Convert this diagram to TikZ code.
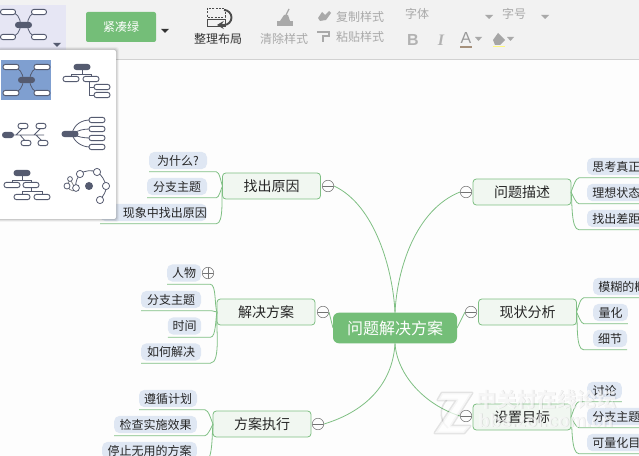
\documentclass[tikz,border=0pt]{standalone}
\usepackage{fontspec}
\setmainfont{Noto Sans CJK SC}
\newfontfamily\latinf{Liberation Sans}
\newfontfamily\latins{Liberation Serif}
\usetikzlibrary{arrows.meta}
\definecolor{canvasbg}{HTML}{FDFDFD}
\definecolor{barbg}{HTML}{F2F2F2}
\definecolor{green1}{HTML}{74BE78}
\definecolor{greenl}{HTML}{7FBF83}
\definecolor{branchbg}{HTML}{F1F7F1}
\definecolor{leafbg}{HTML}{DFE7F3}
\definecolor{dk}{HTML}{555B70}
\definecolor{sel}{HTML}{7F9FD0}
\definecolor{gtext}{HTML}{A9A9A9}
\newcommand{\LL}[4]{\draw[link] ([yshift=-2pt]#1.south west) -- ([xshift=#3,yshift=-2pt]#1.south east) to[out=0,in=#4,looseness=0.55] (#2.west);}
\newcommand{\RL}[4]{\draw[link] ([yshift=-2pt]#1.south east) -- ([xshift=-#3,yshift=-2pt]#1.south west) to[out=180,in=#4,looseness=0.55] (#2.east);}
\newcommand{\Bx}[3]{\node[minibox=#3] at (#1,-#2) {};}
\newcommand{\ZMark}{(442,-393) -- (472,-393) -- (451,-426) -- (470,-426) -- (464,-433) -- (435,-433) -- (457,-400) -- (438,-400) -- cycle}
\tikzset{
 x=0.75pt,y=0.75pt,
 link/.style={draw=greenl,line width=0.6pt},
 mainnode/.style={fill=green1,rounded corners=4.5pt,text=white,font=\fontsize{12}{12}\selectfont,minimum width=93pt,minimum height=23pt,inner sep=0,outer sep=0},
 branch/.style={draw=greenl,fill=branchbg,line width=0.6pt,rounded corners=2.5pt,text=black!85,font=\fontsize{10.5}{10.5}\selectfont,minimum width=73.5pt,minimum height=19.5pt,inner sep=0,outer sep=0},
 leaf/.style={fill=leafbg,rounded corners=4pt,text=black!85,font=\fontsize{9}{9}\selectfont,minimum height=12.9pt,inner sep=0,outer sep=0},
 folder/.style={circle,draw=black!55,fill=canvasbg,line width=0.4pt,minimum size=8.6pt,inner sep=0,path picture={\draw[black!55,line width=0.4pt] (path picture bounding box.west) -- (path picture bounding box.east);}},
 folderp/.style={folder,path picture={\draw[black!55,line width=0.4pt] (path picture bounding box.west) -- (path picture bounding box.east) (path picture bounding box.north) -- (path picture bounding box.south);}},
 minibox/.style={draw=dk,fill=white,line width=0.7pt,rounded corners=1.8pt,minimum width=#1*0.75pt,minimum height=3.9pt,inner sep=0},
 minidark/.style={fill=dk,rounded corners=2.2pt,minimum width=#1*0.75pt,minimum height=4.6pt,inner sep=0},
 miniline/.style={draw=dk,line width=0.6pt},
 tool/.style={font=\fontsize{9}{9}\selectfont,inner sep=0},
 gray tool/.style={tool,text=gtext},
 wm1font/.style={inner sep=0,anchor=west,font=\bfseries\fontsize{15}{15}\selectfont},
 wm2font/.style={inner sep=0,anchor=west,font=\latinf\bfseries\fontsize{14}{14}\selectfont},
}
\begin{document}
\begin{tikzpicture}
\useasboundingbox (0,0) rectangle (639,-456);
\clip (0,0) rectangle (639,-456);
\fill[canvasbg] (0,0) rectangle (639,-456);

% central
\node[mainnode] (main) at (395,-328) {问题解决方案};
% branches
\node[branch] (b1) at (271.5,-186) {找出原因};
\node[branch] (b2) at (522,-192) {问题描述};
\node[branch] (b3) at (266,-312) {解决方案};
\node[branch] (b4) at (527.5,-312) {现状分析};
\node[branch] (b5) at (262,-424) {方案执行};
\node[branch] (b6) at (522,-417) {设置目标};
% folders
\node[folder] (f1) at (328,-186) {};
\node[folder] (f2) at (466,-192) {};
\node[folder] (f3) at (323,-312) {};
\node[folder] (f4) at (471,-312) {};
\node[folder] (f5) at (318,-424) {};
\node[folder] (f6) at (466,-416) {};
\node[folderp] (f7) at (208,-273) {};
% central connectors
\draw[link] (main.north) .. controls (393,-270) and (375,-205) .. (f1.east);
\draw[link] (main.north) .. controls (397,-270) and (415,-210) .. (f2.west);
\draw[link] (main.south) .. controls (393,-380) and (370,-410) .. (f5.east);
\draw[link] (main.south) .. controls (397,-375) and (425,-405) .. (f6.west);
\draw[link] (f3.east) -- (main.west);
\draw[link] (main.east) -- (f4.west);
% leaves
\node[leaf,minimum width=43.5pt] (l11) at (178,-160.5) {为什么?};
\node[leaf,minimum width=45pt] (l12) at (177,-186.5) {分支主题};
\node[leaf,minimum width=80pt] (l13) at (153.5,-212.5) {\hspace*{17pt}现象中找出原因};
\node[leaf,minimum width=25.5pt] (l31) at (184,-273) {人物};
\node[leaf,minimum width=45pt] (l32) at (171,-299.5) {分支主题};
\node[leaf,minimum width=25pt] (l33) at (184.5,-326) {时间};
\node[leaf,minimum width=45pt] (l34) at (171,-352) {如何解决};
\node[leaf,minimum width=43.5pt] (l51) at (168,-398.5) {遵循计划};
\node[leaf,minimum width=62pt] (l52) at (155.5,-424.5) {检查实施效果};
\node[leaf,minimum width=71pt] (l53) at (149.5,-450.5) {停止无用的方案};
\node[leaf,minimum width=50pt,anchor=west,text width=50pt,align=left] (l21) at (587,-166.5) {\hspace*{4pt}思考真正};
\node[leaf,minimum width=50pt,anchor=west,text width=50pt,align=left] (l22) at (587,-192.5) {\hspace*{4pt}理想状态};
\node[leaf,minimum width=50pt,anchor=west,text width=50pt,align=left] (l23) at (587,-218.5) {\hspace*{4pt}找出差距};
\node[leaf,minimum width=50pt,anchor=west,text width=50pt,align=left] (l41) at (593,-286.5) {\hspace*{4pt}模糊的概};
\node[leaf,minimum width=26pt] (l42) at (610.5,-312.5) {量化};
\node[leaf,minimum width=25.5pt] (l43) at (610,-338.5) {细节};
\node[leaf,minimum width=26pt] (l61) at (604.5,-390.5) {讨论};
\node[leaf,minimum width=50pt,anchor=west,text width=50pt,align=left] (l62) at (587,-416.5) {\hspace*{4pt}分支主题};
\node[leaf,minimum width=50pt,anchor=west,text width=50pt,align=left] (l63) at (587,-442.5) {\hspace*{4pt}可量化目};
% leaf connectors
\LL{l11}{b1}{7pt}{115}
\LL{l12}{b1}{7pt}{240}
\LL{l13}{b1}{7pt}{260}
\LL{l31}{b3}{7pt}{115}
\LL{l32}{b3}{8pt}{180}
\LL{l33}{b3}{7pt}{255}
\LL{l34}{b3}{7pt}{262}
\LL{l51}{b5}{6pt}{115}
\LL{l52}{b5}{6pt}{240}
\LL{l53}{b5}{6pt}{262}
\RL{l21}{b2}{6pt}{65}
\RL{l22}{b2}{6pt}{300}
\RL{l23}{b2}{6pt}{280}
\RL{l41}{b4}{7pt}{65}
\RL{l42}{b4}{7pt}{300}
\RL{l43}{b4}{7pt}{280}
\RL{l61}{b6}{6pt}{65}
\RL{l62}{b6}{6pt}{300}
\RL{l63}{b6}{6pt}{280}

% watermark
\begin{scope}[opacity=0.10]
\draw[black,line width=2.2pt,line join=round] \ZMark;
\draw[black,line width=1.2pt] (448,-428) arc[start angle=230,end angle=135,radius=19];
\node[wm1font,black] at (476.8,-399.8) {中关村在线论坛};
\node[wm2font,black] at (478.8,-420.8) {bbs.zol.com.cn};
\end{scope}
\begin{scope}[opacity=0.7]
\fill[white] \ZMark;
\node[wm1font,white] (wm1) at (476,-400) {中关村在线论坛};
\node[wm2font,white] (wm2) at (478,-421) {bbs.zol.com.cn};
\end{scope}

% toolbar
\fill[barbg] (0,0) rectangle (639,-59);
\draw[black!18,line width=0.6pt] (0,-59.5) -- (639,-59.5);
\fill[blue!30!white,opacity=0.18] (0,-5) rectangle (66,-50);
% layout icon in toolbar
\draw[miniline] (10,-12) .. controls (24,-12) and (24,-37) .. (10,-37);
\draw[miniline] (38,-12) .. controls (24,-12) and (24,-37) .. (38,-37);
\Bx{8}{12}{15} \Bx{39}{12}{15} \Bx{8}{37}{15} \Bx{39}{37}{15}
\node[minidark=17] at (23.5,-25) {};
\fill[dk] (53,-43) -- (61,-43) -- (57,-47) -- cycle;
% theme button
\node[fill=green1,rounded corners=1.5pt,minimum width=52.5pt,minimum height=22.5pt,inner sep=0,text=white,font=\fontsize{9}{9}\selectfont] (theme) at (121,-27) {紧凑绿};
\fill[black!80] (161,-29) -- (169,-29) -- (165,-33) -- cycle;
% arrange icon
\draw[black!70,dash pattern=on 1.5pt off 1pt,line width=0.5pt] (207,-8) rectangle (225,-17);
\draw[black!70,line width=0.6pt] (207,-19.5) rectangle (225,-26);
\draw[black!70,line width=1.4pt,-{Stealth[length=5pt,width=6pt]}] (224,-10) arc[start angle=90,end angle=-90,radius=7.5] -- (217,-25);
\node[tool,text=black!80] (t1) at (218,-38.5) {整理布局};
% clear icon
\fill[gtext] (277,-21) -- (293,-21) -- (293,-26) -- (277,-26) -- cycle;
\fill[gtext] (280,-21) -- (284,-15) -- (288,-15) -- (290,-21) -- cycle;
\draw[gtext,line width=1pt] (286,-15) -- (289,-9);
\node[gray tool] (t2) at (284,-38.5) {清除样式};
% copy / paste
\fill[gtext] (318,-18) -- (322,-12) -- (325,-15) -- (329,-11) -- (331,-13) -- (326,-20) -- (320,-21) -- cycle;
\node[gray tool] (t3) at (360,-16.5) {复制样式};
\draw[gtext,line width=1.5pt] (317,-32) -- (329,-32) -- (329,-36) -- (323,-36) -- (323,-42);
\node[gray tool] (t4) at (360,-36.5) {粘贴样式};
% font boxes
\draw[black!5,line width=0.6pt] (400,-3) rectangle (497,-25);
\draw[black!5,line width=0.6pt] (497,-3) rectangle (554,-25);
\node[gray tool] (t5) at (417,-14) {字体};
\node[gray tool] (t6) at (514,-14) {字号};
\fill[gtext] (485,-15) -- (493,-15) -- (489,-19) -- cycle;
\fill[gtext] (541,-15) -- (549,-15) -- (545,-19) -- cycle;
\node[gray tool,font=\latinf\bfseries\fontsize{12}{12}\selectfont,text=black!30] (t7) at (413,-40) {B};
\node[gray tool,font=\latins\itshape\bfseries\fontsize{12}{12}\selectfont,text=black!30] (t8) at (441,-40) {I};
\node[gray tool,font=\latinf\fontsize{12}{12}\selectfont,text=black!40] (t9) at (466,-38) {A};
\fill[black!45!brown!60!white] (460,-46) rectangle (472,-48);
\fill[gtext] (475,-37) -- (482,-37) -- (478.5,-41) -- cycle;
\fill[black!35] (493,-40) -- (498,-33) -- (505,-40) -- (500,-45) -- (495,-45) -- cycle;
\fill[yellow!50!white] (493,-46) rectangle (505,-47.5);
\fill[gtext] (507,-37) -- (514,-37) -- (510.5,-41) -- cycle;

% dropdown panel
\foreach \s/\o in {3/0.04,2/0.07,1/0.1}
 \fill[black,opacity=\o,rounded corners=2pt] (-2,-50+\s) rectangle (116+\s,-219-\s);
\fill[white,rounded corners=1.5pt] (-2,-50) rectangle (116,-219);
\fill[sel] (1,-60) rectangle (51,-100);
% icon 1
\draw[miniline] (12,-67) .. controls (27,-67) and (27,-93) .. (12,-93);
\draw[miniline] (41,-67) .. controls (26,-67) and (26,-93) .. (41,-93);
\Bx{11}{67}{16} \Bx{42}{67}{16} \Bx{11}{93}{16} \Bx{42}{93}{16}
\node[minidark=17] at (26.5,-80) {};
% icon 2
\draw[miniline] (82,-67) -- (82,-74) (71,-79) -- (71,-74) -- (91,-74) -- (91,-79) (89,-82) -- (89,-95) -- (102,-95) (89,-87) -- (102,-87);
\Bx{71}{79}{16} \Bx{91}{79}{16} \Bx{102}{87}{16} \Bx{102}{95}{16}
\node[minidark=17] at (82,-67) {};
% icon 3
\draw[miniline] (8,-135) -- (44,-135) (16,-135) -- (24,-127) (34,-135) -- (42,-127) (20,-135) -- (27,-143) (36,-135) -- (44,-143);
\Bx{23}{126}{10} \Bx{41}{126}{10} \Bx{26}{143}{10} \Bx{43}{143}{10}
\node[minidark=12] at (8,-135) {};
% icon 4
\draw[miniline] (72,-134) .. controls (74,-124) and (82,-120) .. (90,-120) (72,-134) .. controls (78,-130) and (84,-129) .. (90,-129) (72,-134) .. controls (78,-137) and (84,-138) .. (90,-138) (72,-134) .. controls (74,-142) and (82,-147) .. (90,-147);
\Bx{97}{120}{16} \Bx{97}{129}{16} \Bx{97}{138}{16} \Bx{97}{147}{16}
\node[minidark=17] at (70,-134) {};
% icon 5
\draw[miniline] (22,-173) -- (22,-180) (12,-185) -- (12,-180) -- (31,-180) -- (31,-185) (31,-185) -- (31,-191) (22,-197) -- (22,-191) -- (42,-191) -- (42,-197);
\Bx{12}{185}{16} \Bx{31}{185}{16} \Bx{22}{197}{16} \Bx{42}{197}{16}
\node[minidark=17] at (22,-173) {};
% icon 6
\draw[miniline,black!45] (67,-186) -- (70,-179) -- (75,-188);
\draw[miniline,black!45] (67,-186) .. controls (70,-192) and (76,-192) .. (76,-188);
\draw[miniline] (76,-188) .. controls (75,-180) and (78,-178) .. (80,-174) .. controls (85,-170) and (92,-170) .. (97,-172) .. controls (102,-175) and (105,-181) .. (106,-186) .. controls (107,-191) and (103,-196) .. (100,-200);
\foreach \x/\y/\r in {80/174/3.6,97/172/3.6,106/186/3.6,100/200/3.6,76/188/3.4,67/186/3,70/179/2.4}
 \draw[dk,fill=white,line width=0.6pt] (\x,-\y) circle[radius=\r];
\fill[dk] (89,-186) circle[radius=4];
\end{tikzpicture}
\end{document}
